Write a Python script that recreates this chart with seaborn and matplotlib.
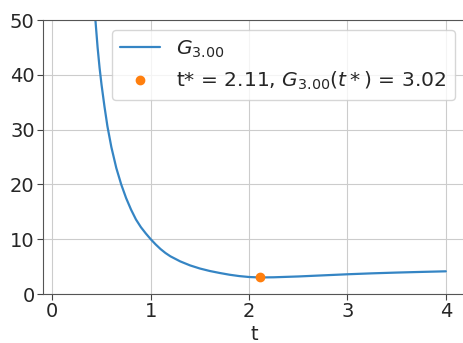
import matplotlib
matplotlib.use("Agg")
import matplotlib.pyplot as plt
import seaborn as sns
import pandas as pd

# values
t_values = [0.42, 0.44, 0.46, 0.48, 0.50, 0.53, 0.56, 0.60, 0.65, 0.70,
            0.75, 0.80, 0.85, 0.90, 0.95, 1.00, 1.05, 1.10, 1.15, 1.20,
            1.30, 1.40, 1.50, 1.60, 1.70, 1.80, 1.90, 2.00, 2.11, 2.25,
            2.50, 2.75, 3.00, 3.25, 3.50, 3.75, 4.00]
g_values = [54.0, 49.5, 45.0, 41.3, 38.2, 34.2, 30.6, 26.8, 23.0, 20.0,
            17.5, 15.4, 13.6, 12.2, 11.05, 10.0, 9.05, 8.2, 7.48, 6.88,
            5.95, 5.22, 4.65, 4.2, 3.84, 3.52, 3.27, 3.10, 3.02, 3.05,
            3.20, 3.40, 3.60, 3.77, 3.91, 4.03, 4.14]
t_star = [2.11]
g_star = [3.02]
x_ticks = [0, 1, 2, 3, 4]
y_ticks = [0, 10, 20, 30, 40, 50]

sns.set_style("whitegrid")
plt.rcParams["font.family"] = ["DejaVu Sans"]
plt.rcParams.update({
    "axes.edgecolor": "#555555",
    "grid.color": "#cccccc",
    "xtick.bottom": True,
    "ytick.left": True,
    "xtick.color": "#444444",
    "ytick.color": "#444444",
    "xtick.labelcolor": "#262626",
    "ytick.labelcolor": "#262626",
    "xtick.major.size": 4,
    "ytick.major.size": 4,
})

curve = pd.DataFrame({"t": t_values, "G": g_values})
opt = pd.DataFrame({"t": t_star, "G": g_star})

fig = plt.figure(figsize=(4.63, 3.43), dpi=100)
ax = fig.add_axes([43 / 463, 49 / 343, 422 / 463, 274 / 343])

sns.lineplot(data=curve, x="t", y="G", ax=ax, color="#3585c4", lw=1.6,
             label=r"$G_{3.00}$")
ax.plot(opt["t"], opt["G"], "o", color="#ff7f0e", ms=6, lw=0,
        label=r"t* = 2.11, $G_{3.00}(t*)$ = 3.02")

ax.set_xlim(-0.095, 4.195)
ax.set_ylim(0, 50)
ax.set_xticks(x_ticks)
ax.set_yticks(y_ticks)
ax.tick_params(labelsize=14, pad=2)
ax.set_xlabel("t", fontsize=14, color="#262626", labelpad=3)
ax.set_ylabel("")
ax.legend(loc="upper right", fontsize=14.6, frameon=True)

fig.savefig("out.png", dpi=100)
